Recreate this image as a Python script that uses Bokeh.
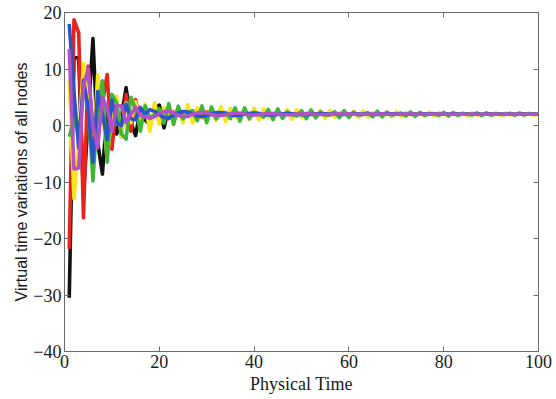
from bokeh.plotting import figure
from bokeh.models import LinearAxis, Range1d, FixedTicker, CustomJSTickFormatter
from bokeh.embed import file_html
from bokeh.resources import INLINE

# Physical time steps
time = list(range(1, 101))

# Virtual time variations of each node
red = [-21.8, 18.7, 16.4, -16.3, 10.5, -2.4, 2.0, 4.0, 9.0, -4.2, 4.0, -2.0, 5.5, -1.0, 4.6, 0.5, 3.5,
       -0.3, 3.2, 0.6, 3.0, 1.2, 2.4, 2.2, 1.3, 3.0, 1.1, 2.9, 1.4, 2.4, 1.9, 1.9, 2.3, 1.7, 2.3, 1.8,
       2.1, 2.0, 2.0, 1.95, 2.05, 1.97, 2.02, 2.0, 2.0,
       2.0, 2.0, 2.0, 2.0, 2.0, 2.0, 2.0, 2.0, 2.0, 2.0, 2.0, 2.0, 2.0, 2.0, 2.0, 2.0, 2.0, 2.0, 2.0, 2.0,
       2.0, 2.0, 2.0, 2.0, 2.0, 2.0, 2.0, 2.0, 2.0, 2.0, 2.0, 2.0, 2.0, 2.0, 2.0, 2.0, 2.0, 2.0, 2.0, 2.0,
       2.0, 2.0, 2.0, 2.0, 2.0, 2.0, 2.0, 2.0, 2.0, 2.0, 2.0, 2.0, 2.0, 2.0, 2.0]

black = [-30.5, 12.0, 12.0, -12.5, 1.5, 15.4, -3.0, -8.6, 3.0, 2.0, -1.5, 1.5, 6.7, 0.5, -1.8, 2.9, 1.0,
         0.2, 3.0, 3.6, -0.4, 3.2, 0.8, 2.5, 1.8, 1.6, 2.6, 1.3, 2.6, 1.6, 2.2, 2.0, 1.8, 2.2, 1.9, 2.1,
         2.0, 2.0, 1.98, 2.02,
         2.0, 2.0, 2.0, 2.0, 2.0, 2.0, 2.0, 2.0, 2.0, 2.0, 2.0, 2.0, 2.0, 2.0, 2.0, 2.0, 2.0, 2.0, 2.0, 2.0,
         2.0, 2.0, 2.0, 2.0, 2.0, 2.0, 2.0, 2.0, 2.0, 2.0, 2.0, 2.0, 2.0, 2.0, 2.0, 2.0, 2.0, 2.0, 2.0, 2.0,
         2.0, 2.0, 2.0, 2.0, 2.0, 2.0, 2.0, 2.0, 2.0, 2.0, 2.0, 2.0, 2.0, 2.0, 2.0, 2.0, 2.0, 2.0, 2.0, 2.0]

yellow = [8.0, -13.0, -3.0, 11.0, 4.0, -7.0, 9.0, 3.0, -6.0, 2.0, 5.2, -2.0, 4.0, 0.5, 4.2, 0.0, 3.8,
          -1.0, 4.07, 0.23, 3.18, 1.60, 1.61, 3.08, 0.47, 3.69, 0.46, 3.12, 1.47, 1.87, 2.72, 0.85, 3.35,
          0.70, 3.03, 1.42, 2.06, 2.44, 1.16, 3.07, 0.92, 2.91, 1.41, 2.18, 2.24, 1.41, 2.83, 1.11, 2.80,
          1.44, 2.25, 2.09, 1.60, 2.62, 1.29, 2.67, 1.48, 2.28, 1.99, 1.74, 2.46, 1.44, 2.56, 1.53, 2.29,
          1.92, 1.86, 2.33, 1.56, 2.47, 1.58, 2.29, 1.88, 1.94, 2.22, 1.67, 2.38, 1.65, 2.27, 1.86, 1.99,
          2.14, 1.75, 2.30, 1.70, 2.24, 1.86, 2.03, 2.09, 1.82, 2.23, 1.76, 2.21, 1.86, 2.05, 2.04, 1.88,
          2.17, 1.80, 2.18]

green = [-2.0, 1.0, -1.5, 6.0, 4.0, -9.8, 3.0, 7.9, -6.5, 5.5, 4.0, -1.5, -2.4, 5.0, 2.9, -1.0, 3.5,
         1.24, 1.86, 2.96, 0.43, 3.86, 0.19, 3.43, 1.17, 2.11, 2.59, 0.86, 3.46, 0.49, 3.28, 1.17, 2.27,
         2.31, 1.20, 3.13, 0.77, 3.11, 1.19, 2.37, 2.11, 1.46,
         2.84, 1.02, 2.94, 1.27, 2.41, 1.97, 1.66, 2.62, 1.22, 2.78, 1.34, 2.42, 1.88, 1.81, 2.44, 1.40,
         2.64, 1.42, 2.41, 1.83, 1.92, 2.30, 1.55, 2.52, 1.51, 2.38, 1.80, 2.00, 2.19, 1.67, 2.41, 1.59,
         2.33, 1.79, 2.05, 2.11, 1.76, 2.32, 1.66, 2.30, 1.80, 2.08, 2.05, 1.84, 2.24, 1.72, 2.26, 1.81,
         2.09, 2.01, 1.89, 2.18, 1.79, 2.22, 1.83, 2.10, 1.98, 1.94]

blue = [18.0, 6.0, -4.0, 8.0, 3.0, -6.5, 6.0, 2.0, -2.5, 4.5, 0.5, 0.0, 3.8, 1.2, 1.0, 3.2, 2.0,
        2.80, 2.49, 1.90, 1.44, 1.42, 1.77, 2.23, 2.48, 2.39, 2.05, 1.72, 1.61, 1.77, 2.07, 2.27, 2.27,
        2.10, 1.88, 1.77, 1.81, 1.98, 2.14, 2.18, 2.10, 1.96, 1.87, 1.87, 1.96, 2.06, 2.11, 2.08, 2.00,
        1.93, 1.91, 1.95, 2.02, 2.06, 2.06,
        2.03, 1.98, 1.95, 1.96, 1.99, 2.02, 2.04, 2.03, 2.00, 1.97, 1.97, 1.99, 2.01, 2.03, 2.02, 2.00,
        1.98, 1.98, 2.0, 2.01, 2.02, 2.01, 2.0, 1.99, 1.99, 2.0, 2.01, 2.01, 2.0, 2.0, 1.99, 2.0, 2.0,
        2.01, 2.0, 2.0, 2.0, 2.0, 2.0, 2.0, 2.0, 2.0, 2.0, 2.0, 2.0]

magenta = [13.5, -7.7, -7.5, 7.0, 10.0, 0.0, -4.0, 5.0, 3.0, -1.0, 3.5, 3.5, 0.5, 2.0, 3.2, 1.8, 1.5,
           1.32, 1.58, 2.09, 2.48, 2.49, 2.20, 1.80, 1.59, 1.67, 1.96, 2.24, 2.33, 2.20, 1.94, 1.77, 1.77,
           1.92, 2.10, 2.20, 2.16, 2.02, 1.88, 1.85, 1.92, 2.03, 2.11, 2.11, 2.03, 1.95, 1.91, 1.93, 2.00,
           2.06, 2.08, 2.04, 1.98, 1.95, 1.95,
           1.97, 2.01, 2.04, 2.04, 2.01, 1.98, 1.97, 1.98, 2.0, 2.02, 2.03, 2.01, 1.99, 1.98, 1.99, 2.0,
           2.01, 2.01, 2.0, 1.99, 1.99, 2.0, 2.0, 2.01, 2.0, 2.0, 2.0, 1.99, 2.0, 2.0, 2.0, 2.0, 2.0,
           2.0, 2.0, 2.0, 2.0, 2.0, 2.0, 2.0, 2.0, 2.0, 2.0, 2.0, 2.0]

x_ticks = [0, 20, 40, 60, 80, 100]
y_ticks = [-40, -30, -20, -10, 0, 10, 20]

SERIF = "Liberation Serif"
SANS = "Liberation Sans"
FRAME = "#6e6a6a"

p = figure(width=552, height=396, x_range=Range1d(0, 100), y_range=Range1d(-40, 20),
           output_backend="svg", toolbar_location=None,
           min_border_left=64, min_border_top=12, min_border_right=14, min_border_bottom=44)
p.background_fill_color = "white"
p.border_fill_color = "white"
p.outline_line_color = FRAME
p.outline_line_width = 1
p.xgrid.visible = False
p.ygrid.visible = False

series = [(black, "#111111"), (red, "#e8231c"), (yellow, "#f7e51c"),
          (green, "#3fb53a"), (blue, "#2a55c8"), (magenta, "#b250c8")]
for vals, col in series:
    p.line(time, vals, line_color=col, line_width=3.6, line_join="round")

for ax in (p.xaxis[0], p.yaxis[0]):
    ax.axis_line_color = FRAME
    ax.major_tick_line_color = FRAME
    ax.major_tick_in = 5
    ax.major_tick_out = 0
    ax.minor_tick_line_color = None
    ax.major_label_text_font = SERIF
    ax.major_label_text_font_size = "18px"
    ax.major_label_text_color = "#1a1a1a"
    ax.major_label_standoff = 3

p.xaxis[0].ticker = FixedTicker(ticks=x_ticks)
p.yaxis[0].ticker = FixedTicker(ticks=y_ticks)
p.xaxis[0].axis_label = "Physical Time"
p.xaxis[0].axis_label_text_font = SERIF
p.xaxis[0].axis_label_text_font_style = "normal"
p.xaxis[0].axis_label_text_font_size = "18px"
p.xaxis[0].axis_label_text_color = "#1a1a1a"
p.xaxis[0].axis_label_standoff = 3

p.yaxis[0].axis_label = "Virtual time variations of all nodes"
p.yaxis[0].axis_label_text_font = SANS
p.yaxis[0].axis_label_text_font_style = "normal"
p.yaxis[0].axis_label_text_font_size = "16px"
p.yaxis[0].axis_label_text_color = "#1a1a1a"
p.yaxis[0].axis_label_standoff = 0

blank = CustomJSTickFormatter(code="return ''")
top = LinearAxis(ticker=FixedTicker(ticks=x_ticks), formatter=blank, major_label_text_font_size="1px",
                 major_label_standoff=0, major_tick_in=5, major_tick_out=0,
                 minor_tick_line_color=None, axis_line_color=FRAME, major_tick_line_color=FRAME)
right = LinearAxis(ticker=FixedTicker(ticks=y_ticks), formatter=blank, major_label_text_font_size="1px",
                   major_label_standoff=0, major_tick_in=5, major_tick_out=0,
                   minor_tick_line_color=None, axis_line_color=FRAME, major_tick_line_color=FRAME)
p.add_layout(top, "above")
p.add_layout(right, "right")

open("out.html", "w").write(file_html(p, INLINE))
